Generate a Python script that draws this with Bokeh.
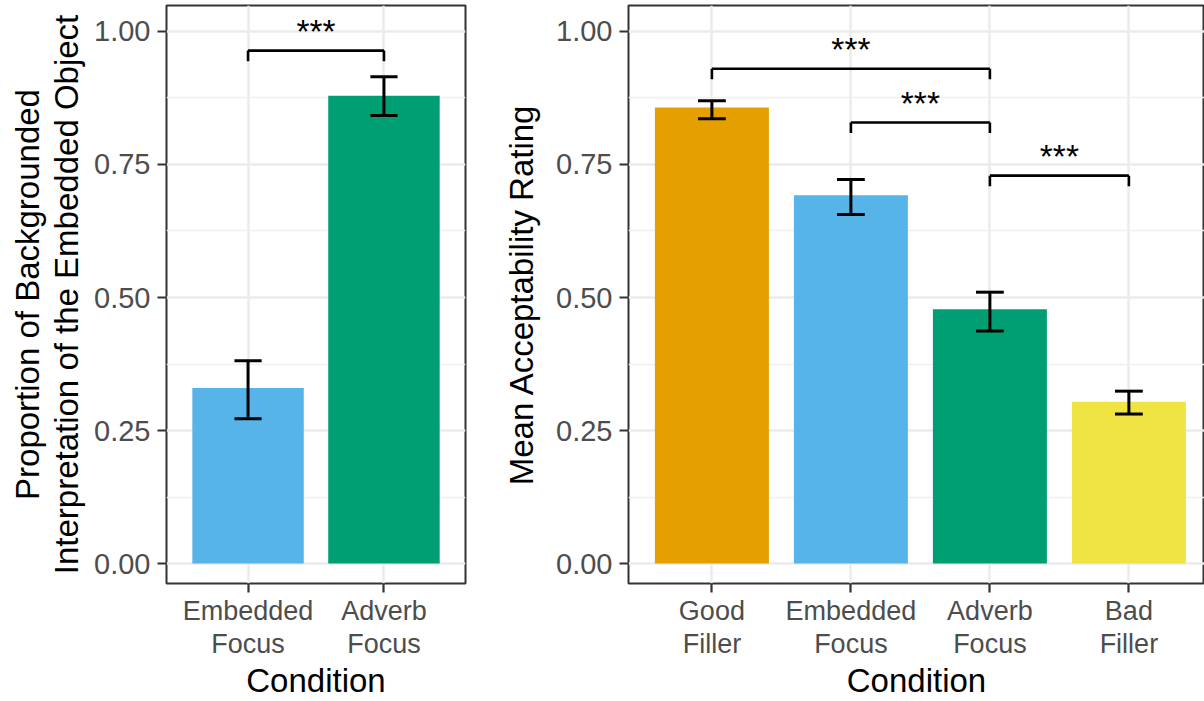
from bokeh.plotting import figure
from bokeh.layouts import row
from bokeh.models import FixedTicker, Range1d, ColumnDataSource
from bokeh.core.properties import value
from bokeh.embed import file_html
from bokeh.resources import INLINE

# ---- data: left panel ----
left_conditions = ["Embedded\nFocus", "Adverb\nFocus"]
left_means = [0.330, 0.879]
left_lower = [0.272, 0.842]
left_upper = [0.381, 0.915]
left_colors = ["#56B4E9", "#009E73"]
left_brackets = [(1, 2, 0.964, "***")]
left_ylabel = "Proportion of Backgrounded\nInterpretation of the Embedded Object"

# ---- data: right panel ----
right_conditions = ["Good\nFiller", "Embedded\nFocus", "Adverb\nFocus", "Bad\nFiller"]
right_means = [0.857, 0.692, 0.478, 0.304]
right_lower = [0.836, 0.656, 0.437, 0.281]
right_upper = [0.870, 0.722, 0.510, 0.324]
right_colors = ["#E69F00", "#56B4E9", "#009E73", "#F0E442"]
right_brackets = [(1, 3, 0.930, "***"), (2, 3, 0.829, "***"), (3, 4, 0.729, "***")]
right_ylabel = "Mean Acceptability Rating"

y_ticks = [0.0, 0.25, 0.5, 0.75, 1.0]
y_minor = [0.125, 0.375, 0.625, 0.875]

FONT = "Liberation Sans"
BAR_W = 0.82
CAP_W = 0.2
TIP = 0.02


def make_panel(conditions, means, lower, upper, colors, brackets, ylabel,
               width, border_left, border_right, x_end, ylabel_standoff):
    n = len(conditions)
    xs = list(range(1, n + 1))
    p = figure(width=width, height=701, output_backend="svg", toolbar_location=None,
               x_range=Range1d(0.4, x_end), y_range=Range1d(-0.0375, 1.0488),
               min_border_left=border_left, min_border_right=border_right,
               min_border_top=5, min_border_bottom=110)
    p.background_fill_color = "white"
    p.border_fill_color = "white"
    p.outline_line_color = "#333333"
    p.outline_line_width = 2

    # grid
    p.xaxis.ticker = FixedTicker(ticks=xs)
    p.yaxis.ticker = FixedTicker(ticks=y_ticks, minor_ticks=y_minor)
    p.xgrid.grid_line_color = "#EBEBEB"
    p.xgrid.grid_line_width = 2.5
    p.ygrid.grid_line_color = "#EBEBEB"
    p.ygrid.grid_line_width = 2.5
    p.ygrid.minor_grid_line_color = "#F0F0F0"
    p.ygrid.minor_grid_line_width = 1.3

    # axes
    for ax in (p.xaxis, p.yaxis):
        ax.axis_line_color = None
        ax.major_tick_line_color = "#333333"
        ax.major_tick_line_width = 2.2
        ax.major_tick_out = 9
        ax.major_tick_in = 0
        ax.minor_tick_line_color = None
        ax.major_label_text_font = FONT
        ax.major_label_text_color = "#4D4D4D"
        ax.axis_label_text_font = FONT
        ax.axis_label_text_font_size = "33px"
        ax.axis_label_text_font_style = "normal"
        ax.axis_label_text_color = "black"
        ax.axis_label_text_line_height = 1.05
    p.yaxis.major_label_text_font_size = "29px"
    p.xaxis.major_label_text_font_size = "27px"
    p.xaxis.major_label_text_line_height = 1.1
    p.yaxis.major_label_overrides = {0.0: "0.00", 0.25: "0.25", 0.5: "0.50",
                                     0.75: "0.75", 1.0: "1.00"}
    p.yaxis.major_label_standoff = 7
    p.yaxis.axis_label = ylabel
    p.yaxis.axis_label_standoff = ylabel_standoff
    p.xaxis.major_label_overrides = {x: c for x, c in zip(xs, conditions)}
    p.xaxis.major_label_standoff = 3
    p.xaxis.axis_label = "Condition"
    p.xaxis.axis_label_standoff = 0

    # bars
    src = ColumnDataSource(dict(x=xs, top=means, lo=lower, hi=upper, color=colors,
                                c0=[x - CAP_W / 2 for x in xs],
                                c1=[x + CAP_W / 2 for x in xs]))
    p.vbar(x="x", top="top", bottom=0, width=BAR_W, fill_color="color",
           line_color=None, source=src)
    # error bars
    p.segment(x0="x", y0="lo", x1="x", y1="hi", line_color="black", line_width=3, source=src)
    p.segment(x0="c0", y0="lo", x1="c1", y1="lo", line_color="black", line_width=3, source=src)
    p.segment(x0="c0", y0="hi", x1="c1", y1="hi", line_color="black", line_width=3, source=src)

    # significance brackets
    bx0, by0, bx1, by1 = [], [], [], []
    tx, ty, tt = [], [], []
    for a, b, yb, lab in brackets:
        bx0 += [a, a, b]
        by0 += [yb, yb - TIP, yb - TIP]
        bx1 += [b, a, b]
        by1 += [yb, yb, yb]
        tx.append((a + b) / 2)
        ty.append(yb)
        tt.append(lab)
    p.segment(x0=bx0, y0=by0, x1=bx1, y1=by1, line_color="black", line_width=2.6)
    p.text(x=tx, y=ty, text=tt, text_align="center", text_baseline="alphabetic",
           y_offset=-19, text_font=value(FONT), text_font_size="33.5px",
           text_color="black")
    return p


p1 = make_panel(left_conditions, left_means, left_lower, left_upper, left_colors,
                left_brackets, left_ylabel, 480, 166, 15, 2.6, 6)
p2 = make_panel(right_conditions, right_means, right_lower, right_upper, right_colors,
                right_brackets, right_ylabel, 724, 148, 0, 4.544, 13)

layout = row(p1, p2)
open("out.html", "w").write(file_html(layout, INLINE))
